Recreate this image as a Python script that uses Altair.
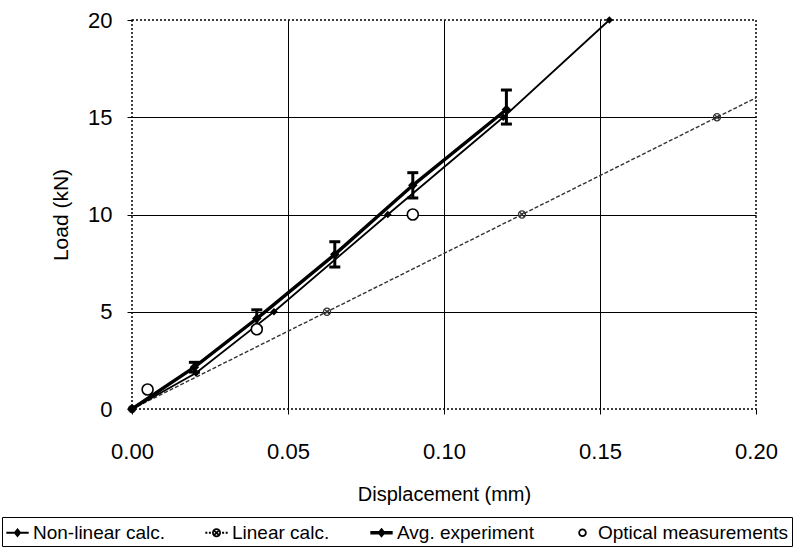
import altair as alt
import pandas as pd

# Series read as (displacement mm, load kN)
nl_disp = [0.0, 0.0205, 0.0455, 0.082, 0.119, 0.153]
nl_load = [0.0, 1.85, 5.0, 10.0, 15.0, 20.0]

lin_disp = [0.0, 0.0625, 0.125, 0.1875]
lin_load = [0.0, 5.0, 10.0, 15.0]
lin_line_disp = [0.0, 0.2]
lin_line_load = [0.0, 16.0]

exp_disp = [0.0, 0.02, 0.04, 0.065, 0.09, 0.12]
exp_load = [0.0, 2.15, 4.65, 7.95, 11.5, 15.4]
exp_lo = [0.0, 1.9, 4.2, 7.3, 10.85, 14.65]
exp_hi = [0.0, 2.4, 5.1, 8.6, 12.15, 16.4]

opt_disp = [0.005, 0.04, 0.09]
opt_load = [1.0, 4.1, 10.0]

series = ["Non-linear calc.", "Linear calc.", "Avg. experiment", "Optical measurements"]
x_ticks = [0.0, 0.05, 0.10, 0.15, 0.20]
y_ticks = [0, 5, 10, 15, 20]

FONT = "Liberation Sans"

# legend glyphs: line segment + marker, drawn in the unit square
legend_paths = [
    "M-1,0L1,0M0,-0.3L0.24,0L0,0.3L-0.24,0ZM0,-0.2L0,0.2M-0.12,0L0.12,0",
    "M-1,0L-0.82,0M-0.68,0L-0.5,0M0.5,0L0.68,0M0.82,0L1,0"
    "M-0.32,0A0.32,0.32,0,1,1,0.32,0A0.32,0.32,0,1,1,-0.32,0Z"
    "M-0.22,-0.22L0.22,0.22M-0.22,0.22L0.22,-0.22",
    "M-1,-0.08L1,-0.08M-1,0L1,0M-1,0.08L1,0.08"
    "M0,-0.32L0.26,0L0,0.32L-0.26,0ZM0,-0.2L0,0.2M-0.14,0L0.14,0",
    "M-0.3,0A0.3,0.3,0,1,1,0.3,0A0.3,0.3,0,1,1,-0.3,0Z",
]
xcircle = ("M-1,0A1,1,0,1,1,1,0A1,1,0,1,1,-1,0Z"
           "M-0.7,-0.7L0.7,0.7M-0.7,0.7L0.7,-0.7")

nl = pd.DataFrame({"d": nl_disp, "p": nl_load})
lin = pd.DataFrame({"d": lin_disp, "p": lin_load})
lin_line = pd.DataFrame({"d": lin_line_disp, "p": lin_line_load})
exp = pd.DataFrame({"d": exp_disp, "p": exp_load, "lo": exp_lo, "hi": exp_hi})
opt = pd.DataFrame({"d": opt_disp, "p": opt_load})
leg = pd.DataFrame({"series": series})

# grid lines only inside; the frame itself is the dotted view stroke
grid_op_x = {"condition": {"test": "datum.value <= 0.0001 || datum.value >= 0.1999", "value": 0}, "value": 1}
grid_op_y = {"condition": {"test": "datum.value <= 0 || datum.value >= 20", "value": 0}, "value": 1}

x_enc = alt.X(
    "d:Q",
    scale=alt.Scale(domain=[0, 0.2], nice=False),
    axis=alt.Axis(
        values=x_ticks, format=".2f", title="Displacement (mm)",
        grid=True, gridColor="black", gridWidth=1, gridOpacity=grid_op_x,
        domain=False, tickColor="black", tickSize=5, tickWidth=1,
        labelFlush=False, labelOverlap=False,
        labelFont=FONT, labelFontSize=22, labelColor="black", labelPadding=27,
        titleFont=FONT, titleFontSize=20, titleFontWeight="normal", titleColor="black",
        titlePadding=22,
    ),
)
y_enc = alt.Y(
    "p:Q",
    scale=alt.Scale(domain=[0, 20], nice=False),
    axis=alt.Axis(
        values=y_ticks, format="d", title="Load (kN)",
        grid=True, gridColor="black", gridWidth=1, gridOpacity=grid_op_y,
        domain=False, tickColor="black", tickSize=5, tickWidth=1,
        labelFlush=False, labelOverlap=False,
        labelFont=FONT, labelFontSize=22, labelColor="black", labelPadding=15,
        titleFont=FONT, titleFontSize=21, titleFontWeight="normal", titleColor="black",
        titlePadding=16,
    ),
)

lin_line_mark = alt.Chart(lin_line).mark_line(
    color="#333333", strokeWidth=1.4, strokeDash=[4, 2]
).encode(x=x_enc, y=y_enc)

lin_pts = alt.Chart(lin).mark_point(
    shape=xcircle, size=50, filled=False, color="#333333", strokeWidth=1.3, opacity=1
).encode(x="d:Q", y="p:Q")

nl_line = alt.Chart(nl).mark_line(color="black", strokeWidth=1.8).encode(x="d:Q", y="p:Q")
nl_pts = alt.Chart(nl).mark_point(
    shape="diamond", size=55, filled=True, color="black", opacity=1
).encode(x="d:Q", y="p:Q")

exp_line = alt.Chart(exp).mark_line(color="black", strokeWidth=3.4).encode(x="d:Q", y="p:Q")
exp_pts = alt.Chart(exp).mark_point(
    shape="diamond", size=90, filled=True, color="black", opacity=1
).encode(x="d:Q", y="p:Q")
bars = alt.Chart(exp).transform_filter("datum.hi > datum.lo")
err_rule = bars.mark_rule(color="black", strokeWidth=3, opacity=1).encode(x="d:Q", y="lo:Q", y2="hi:Q")
err_lo = bars.mark_tick(orient="horizontal", size=11, thickness=3, color="black", opacity=1).encode(x="d:Q", y="lo:Q")
err_hi = bars.mark_tick(orient="horizontal", size=11, thickness=3, color="black", opacity=1).encode(x="d:Q", y="hi:Q")

opt_pts = alt.Chart(opt).mark_point(
    shape="circle", size=120, filled=False, fill="white", fillOpacity=1,
    color="black", strokeWidth=1.6, opacity=1
).encode(x="d:Q", y="p:Q")

# legend-only layer: no rows drawn, entries come from the explicit scale domain
legend_layer = alt.Chart(leg).transform_filter("false").mark_point(
    filled=False, color="black", strokeWidth=1.8, opacity=1
).encode(
    shape=alt.Shape(
        "series:N",
        scale=alt.Scale(domain=series, range=legend_paths),
        legend=alt.Legend(
            title=None, orient="none", direction="horizontal",
            legendX=-130, legendY=497,
            symbolSize=500, symbolStrokeWidth=1.8, symbolStrokeColor="black",
            symbolFillColor="transparent", symbolOpacity=1,
            labelFont=FONT, labelFontSize=19, labelColor="black", labelOffset=3,
            labelLimit=400,
            columnPadding=36, padding=3, strokeColor="black", fillColor="white",
            cornerRadius=0,
        ),
    )
)

chart = alt.layer(
    lin_line_mark, lin_pts, nl_line, exp_line, nl_pts, exp_pts,
    err_rule, err_lo, err_hi, opt_pts, legend_layer,
).properties(
    width=624, height=389,
    autosize=alt.AutoSizeParams(type="none"),
    padding={"left": 132, "top": 20, "right": 40, "bottom": 143},
    background="white",
).configure_view(
    stroke="black", strokeDash=[2, 2], strokeWidth=1.5
)

chart.save("out.html", embed_options={"renderer": "svg", "actions": False})
